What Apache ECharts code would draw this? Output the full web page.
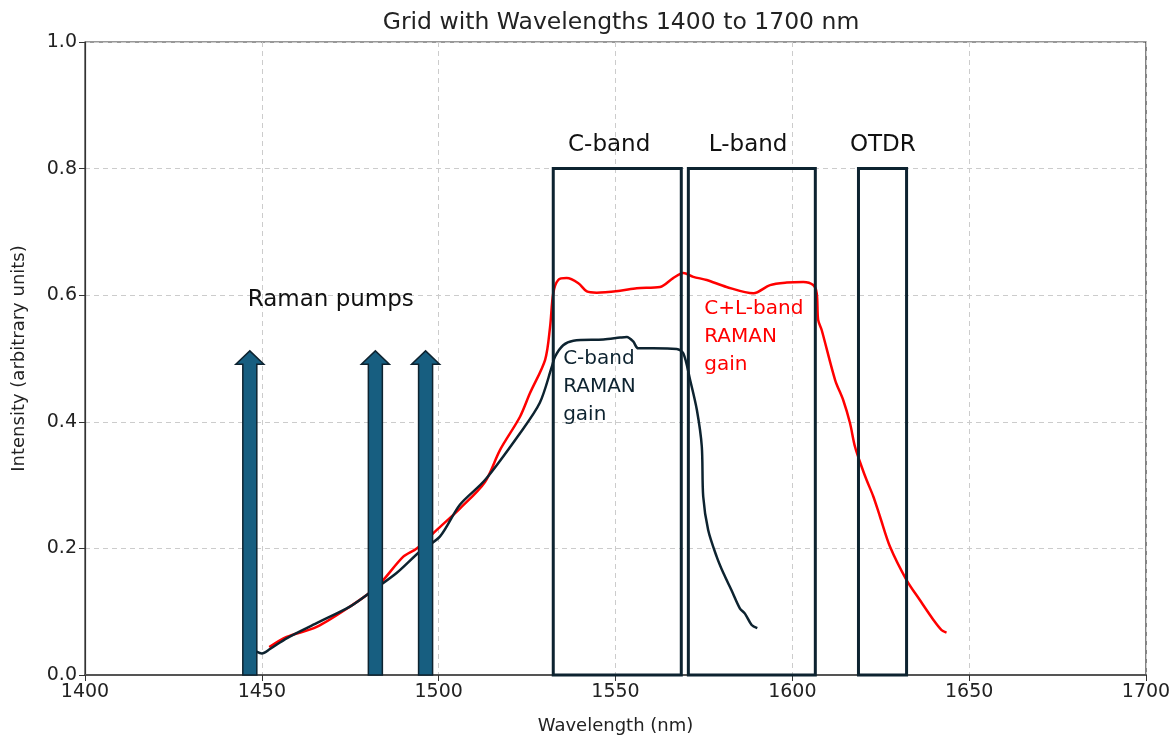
<!DOCTYPE html>
<html><head><meta charset="utf-8">
<script src="https://cdn.jsdelivr.net/npm/echarts@6/dist/echarts.min.js"></script>
<style>html,body{margin:0;padding:0;background:#fff}#c{width:1176px;height:737px}</style>
</head><body><div id="c"></div>
<script>
const xTicks = [1400, 1450, 1500, 1550, 1600, 1650, 1700];
const yTicks = [0.0, 0.2, 0.4, 0.6, 0.8, 1.0];

const cBandGain = [
  [1448.5,0.037],[1450.0,0.034],[1452.3,0.041],[1457.0,0.058],[1465.5,0.082],[1474.9,0.108],
  [1481.5,0.134],[1488.1,0.161],[1494.7,0.195],[1500.4,0.219],[1506.0,0.269],[1513.1,0.308],
  [1523.0,0.382],[1528.6,0.430],[1532.0,0.487],[1532.9,0.503],[1535.2,0.521],[1538.1,0.528],
  [1546.6,0.530],[1551.3,0.533],[1553.2,0.534],[1555.0,0.527],[1556.4,0.516],[1560.6,0.516],
  [1567.3,0.515],[1569.2,0.508],[1571.1,0.466],[1573.0,0.419],[1574.4,0.361],[1574.8,0.282],
  [1576.2,0.229],[1578.6,0.187],[1580.5,0.161],[1582.8,0.134],[1585.2,0.105],[1586.6,0.097],
  [1588.5,0.079],[1590.1,0.074]
];
const clBandGain = [
  [1452.1,0.044],[1457.0,0.060],[1465.5,0.076],[1474.9,0.108],[1482.5,0.139],[1490.0,0.187],
  [1493.8,0.200],[1499.4,0.229],[1506.0,0.263],[1513.1,0.305],[1517.3,0.355],[1523.0,0.408],
  [1525.8,0.445],[1530.1,0.498],[1531.5,0.550],[1532.4,0.603],[1533.8,0.624],[1536.2,0.627],
  [1539.5,0.619],[1541.9,0.606],[1544.7,0.604],[1551.3,0.607],[1556.0,0.611],[1562.6,0.613],
  [1566.3,0.627],[1569.2,0.635],[1572.0,0.629],[1575.8,0.624],[1581.4,0.613],[1589.0,0.603],
  [1593.7,0.616],[1598.4,0.620],[1603.1,0.621],[1605.9,0.616],[1606.9,0.603],[1607.3,0.561],
  [1608.3,0.545],[1612.1,0.466],[1614.4,0.434],[1616.3,0.398],[1617.7,0.361],[1619.6,0.329],
  [1621.0,0.308],[1622.9,0.282],[1624.8,0.250],[1627.6,0.203],[1632.3,0.150],[1636.1,0.118],
  [1639.9,0.087],[1642.2,0.071],[1643.6,0.067]
];
const pumpWavelengths = [1446.6, 1482.1, 1496.3];
const pumpTip = 0.512;
const pumpHeadBase = 0.491;

const bandNames = ['C-band', 'L-band', 'OTDR'];
const bandStart = [1532.4, 1570.6, 1618.7];
const bandEnd = [1568.6, 1606.5, 1632.3];
const bandTop = 0.8;
const bandLabelX = [1548.2, 1587.5, 1625.6];
const bandLabelY = 0.837;

const annotationTexts = ['Raman pumps', 'C-band\nRAMAN\ngain', 'C+L-band\nRAMAN\ngain'];
const annotationX = [1446.0, 1535.2, 1575.1];
const annotationY = [0.592, 0.456, 0.535];
const annotationColors = ['#111111', '#0d2330', '#ff0000'];

const chart = echarts.init(document.getElementById('c'));
const FONT = '"DejaVu Sans", sans-serif';

const pumpData = pumpWavelengths.map(w => [w, pumpTip, pumpHeadBase]);
const bandData = bandNames.map((n, i) => [bandStart[i], bandEnd[i], bandTop, bandLabelX[i], bandLabelY]);
const annData = annotationTexts.map((t, i) => [annotationX[i], annotationY[i]]);

chart.setOption({
  animation: false,
  backgroundColor: '#fff',
  title: {
    text: 'Grid with Wavelengths 1400 to 1700 nm',
    left: 616, top: 6, textAlign: 'center',
    textStyle: {fontFamily: FONT, fontSize: 23.5, fontWeight: 'normal', color: '#222'}
  },
  grid: {left: 85, right: 30, top: 42, bottom: 62, show: true, borderColor: '#333', borderWidth: 1.2,
         outerBoundsMode: 'none', containLabel: false},
  xAxis: {
    type: 'value', min: 1400, max: 1700, interval: 50,
    name: 'Wavelength (nm)', nameLocation: 'middle', nameGap: 42,
    nameTextStyle: {fontFamily: FONT, fontSize: 18, color: '#222'},
    axisLine: {show: true, lineStyle: {color: '#555', width: 2}},
    axisTick: {show: true, length: 6, lineStyle: {color: '#333'}},
    axisLabel: {fontFamily: FONT, fontSize: 19, color: '#222', margin: 8,
      formatter: v => String(v)},
    splitLine: {show: true, lineStyle: {color: '#cccccc', type: [5, 4], width: 1}}
  },
  yAxis: {
    type: 'value', min: 0, max: 1.0, interval: 0.2,
    name: 'Intensity (arbitrary units)', nameLocation: 'middle', nameGap: 57,
    nameTextStyle: {fontFamily: FONT, fontSize: 18, color: '#222'},
    axisLine: {show: true, lineStyle: {color: '#333', width: 1.2}},
    axisTick: {show: true, length: 6, lineStyle: {color: '#333'}},
    axisLabel: {fontFamily: FONT, fontSize: 19, color: '#222', margin: 8,
      formatter: v => v.toFixed(1)},
    splitLine: {show: true, lineStyle: {color: '#cccccc', type: [5, 4], width: 1}}
  },
  series: [
    {
      type: 'line', data: clBandGain, showSymbol: false, smooth: 0.3, z: 3,
      lineStyle: {color: '#ff0000', width: 2.5}
    },
    {
      type: 'line', data: cBandGain, showSymbol: false, smooth: 0.3, z: 3,
      lineStyle: {color: '#0d2330', width: 2.5}
    },
    {
      type: 'custom', z: 5, data: pumpData,
      renderItem: (params, api) => {
        const base = api.coord([api.value(0), 0]);
        const tip = api.coord([api.value(0), api.value(1)]);
        const hb = api.coord([api.value(0), api.value(2)]);
        const sw = 7, hw = 14;
        const x = base[0];
        return {
          type: 'polygon',
          shape: {points: [[x - sw, base[1]], [x - sw, hb[1]], [x - hw, hb[1]], [x, tip[1]],
                           [x + hw, hb[1]], [x + sw, hb[1]], [x + sw, base[1]]]},
          style: {fill: '#175e80', stroke: '#0d2330', lineWidth: 1.5}
        };
      }
    },
    {
      type: 'custom', z: 6, data: bandData,
      renderItem: (params, api) => {
        const p0 = api.coord([api.value(0), 0]);
        const p1 = api.coord([api.value(1), api.value(2)]);
        const lp = api.coord([api.value(3), api.value(4)]);
        return {
          type: 'group',
          children: [
            {type: 'rect', shape: {x: p0[0], y: p1[1], width: p1[0] - p0[0], height: p0[1] - p1[1]},
             style: {fill: 'none', stroke: '#0d2330', lineWidth: 3}},
            {type: 'text', style: {text: bandNames[params.dataIndex], x: lp[0], y: lp[1],
             fill: '#111', font: '23px ' + FONT, textAlign: 'center', textVerticalAlign: 'middle'}}
          ]
        };
      }
    },
    {
      type: 'custom', z: 7, data: annData,
      renderItem: (params, api) => {
        const p = api.coord([api.value(0), api.value(1)]);
        return {
          type: 'text',
          style: {text: annotationTexts[params.dataIndex], x: p[0], y: p[1],
            fill: annotationColors[params.dataIndex],
            font: (params.dataIndex === 0 ? '23px ' : '20px ') + FONT,
            lineHeight: 28, textAlign: 'left', textVerticalAlign: 'middle'}
        };
      }
    }
  ]
});
</script></body></html>
